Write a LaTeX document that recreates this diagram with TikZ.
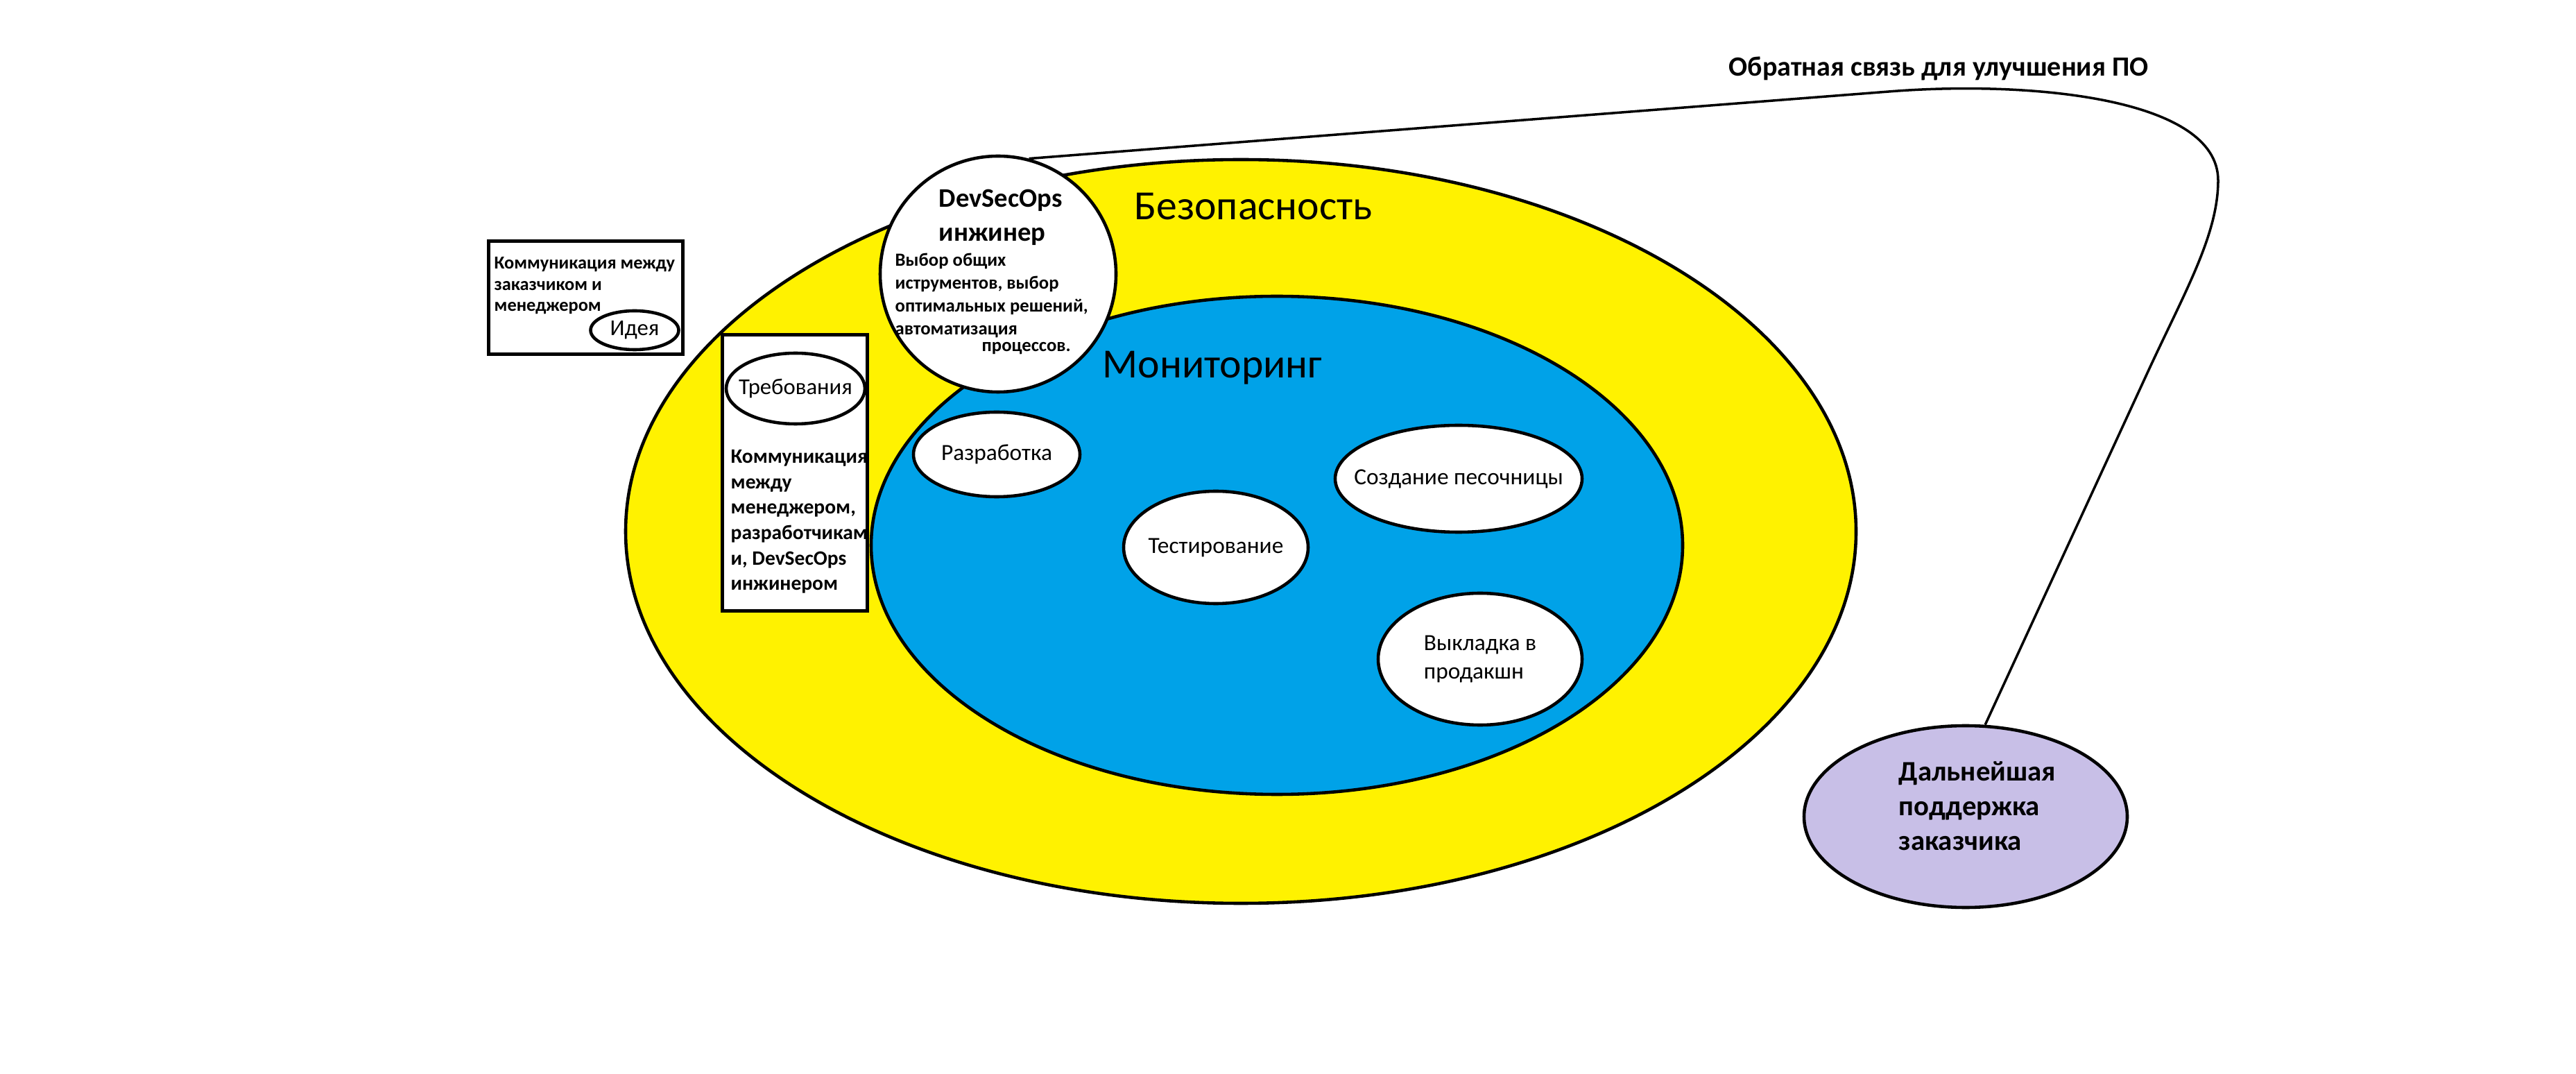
\documentclass[tikz,border=0pt]{standalone}
\usepackage{fontspec}
\setmainfont{Carlito}
\usetikzlibrary{shapes.geometric,positioning}
\definecolor{paintyellow}{HTML}{FFF200}
\definecolor{paintblue}{HTML}{00A2E8}
\definecolor{paintlilac}{HTML}{C8BFE7}
\newcommand{\fsz}[2]{\fontsize{#1}{#2}\selectfont}
\tikzset{
  ring/.style={ellipse, draw=black, line width=1.3pt, inner sep=0pt},
  oval/.style={ring, fill=white, align=center, font=\fsz{9.5pt}{11.4pt}},
  frame/.style={draw=black, line width=1.3pt, fill=white, inner sep=0pt},
  note/.style={align=left, inner sep=0pt, anchor=north west, font=\bfseries\fsz{7.5pt}{8.7pt}},
  head/.style={inner sep=0pt, anchor=base, font=\fsz{17pt}{20pt}},
  link/.style={draw=black, line width=1pt},
}
\begin{document}
\begin{tikzpicture}
  \useasboundingbox[fill=white] (0,0) rectangle (37.14,-15.48);
  % layers
  \node[ring, fill=paintyellow, minimum width=17.74cm, minimum height=10.72cm] (sec) at (17.89,-7.66) {};
  \node[ring, fill=paintblue, minimum width=11.70cm, minimum height=7.18cm] (mon) at (18.41,-7.86) {};
  \node[head] (sectxt) at (18.07,-3.17) {Безопасность};
  \node[head] (montxt) at (17.48,-5.45) {Мониторинг};
  % stages
  \node[oval, minimum width=2.40cm, minimum height=1.22cm] (dev) at (14.37,-6.55) {Разработка};
  \node[oval, minimum width=2.66cm, minimum height=1.62cm, inner xsep=-0.06cm] (test) at (17.53,-7.89) {Тестирование};
  \node[oval, minimum width=3.56cm, minimum height=1.54cm, inner xsep=-0.25cm] (sand) at (21.03,-6.90) {Создание песочницы};
  \node[oval, minimum width=2.94cm, minimum height=1.90cm, align=left] (prod) at (21.34,-9.50) {Выкладка в\\продакшн};
  % requirements
  \node[frame, minimum width=2.09cm, minimum height=3.98cm] (reqbox) at (11.46,-6.815) {};
  \node[oval, minimum width=2.0cm, minimum height=1.02cm, inner xsep=-0.12cm, font=\fsz{9.3pt}{11pt}] (req) at (11.47,-5.60) {Требования};
  \node[note, font=\bfseries\fsz{8.4pt}{10.4pt}] (reqtxt) at (10.53,-6.48) {Коммуникация\\между\\менеджером,\\разработчикам\\и, DevSecOps\\инжинером};
  % idea
  \node[frame, minimum width=2.80cm, minimum height=1.63cm] (ideabox) at (8.445,-4.29) {};
  \node[note] (ideatxt) at (7.12,-3.70) {Коммуникация между\\заказчиком и\\менеджером};
  \node[ring, fill=white, minimum width=1.27cm, minimum height=0.56cm, font=\fsz{9.3pt}{11pt}] (idea) at (9.15,-4.76) {Идея};
  % devsecops
  \node[ring, circle, fill=white, minimum size=3.40cm] (dso) at (14.39,-3.95) {};
  \node[note, font=\bfseries\fsz{11pt}{14.2pt}] (dsohead) at (13.53,-2.72) {DevSecOps\\инжинер};
  \node[note, font=\bfseries\fsz{7.6pt}{9.4pt}] (dsotxt) at (12.90,-3.64) {Выбор общих\\иструментов, выбор\\оптимальных решений,\\автоматизация\\[-2.6pt]\hspace*{1.25cm}процессов.};
  % support
  \node[ring, fill=paintlilac, minimum width=4.66cm, minimum height=2.62cm] (sup) at (28.34,-11.77) {};
  \node[note, font=\bfseries\fsz{11.6pt}{14.2pt}] (suptxt) at (27.37,-10.97) {Дальнейшая\\поддержка\\заказчика};
  \draw[link] (dso.75) -- (27.23,-1.32) .. controls (29.23,-1.16) and (31.98,-1.40) .. (31.98,-2.60) .. controls (31.98,-3.40) and (31.48,-4.24) .. (30.93,-5.44) -- (sup.78);
  \node[anchor=base, inner sep=0pt, font=\bfseries\fsz{11.4pt}{14pt}] (fbtxt) at (27.95,-1.10) {Обратная связь для улучшения ПО};
\end{tikzpicture}
\end{document}
